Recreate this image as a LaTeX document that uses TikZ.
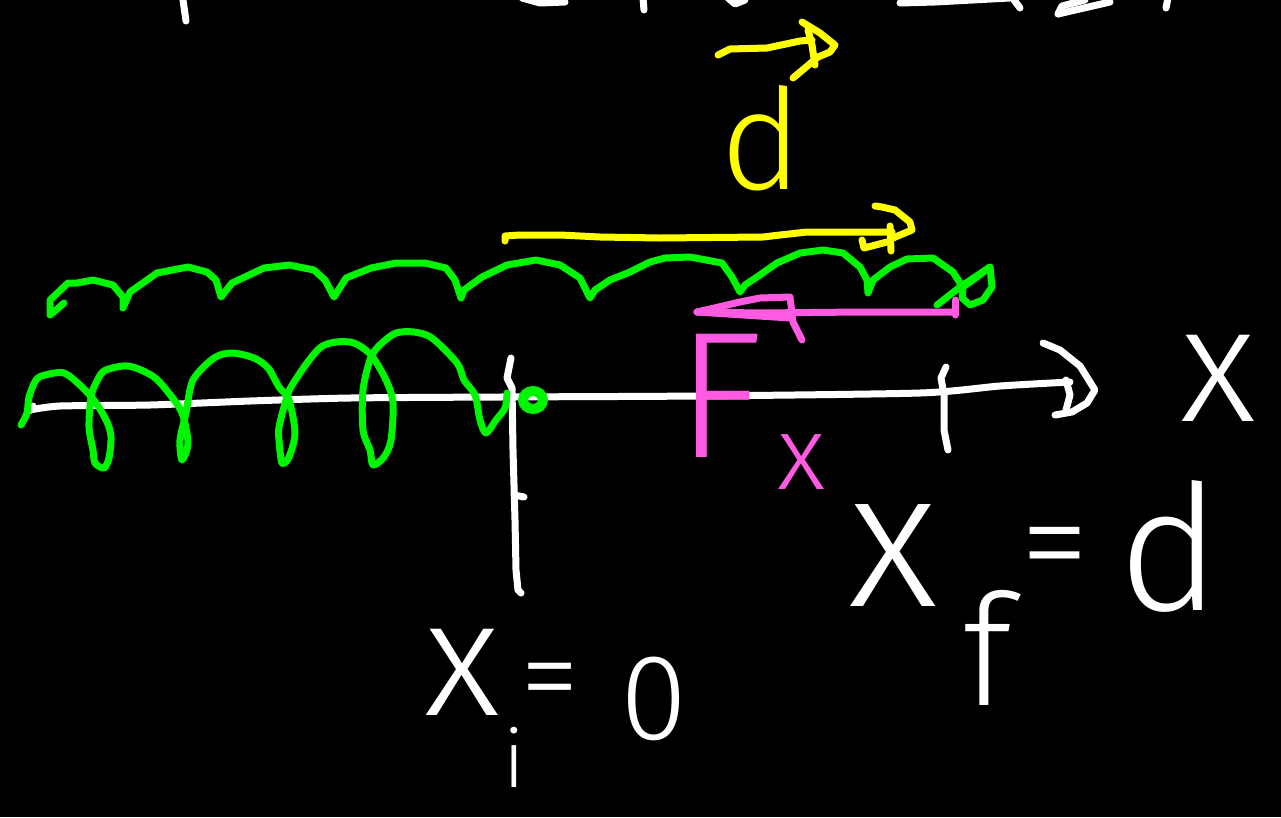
\documentclass[tikz,border=0pt]{standalone}
\usepackage{fontspec}
\newfontfamily\hand{Fira Sans}[UprightFont={* Light}]
\definecolor{hgreen}{RGB}{0,245,0}
\definecolor{hyellow}{RGB}{255,255,0}
\definecolor{hpink}{RGB}{255,90,225}
\newcommand{\fsz}[1]{\hand\fontsize{#1}{#1}\selectfont}
\begin{document}
\begin{tikzpicture}[x=1pt,y=-1pt,
  ink/.style={line width=7pt,line cap=round,line join=round},
  wh/.style={ink,white},
  gr/.style={ink,hgreen},
  ye/.style={ink,hyellow},
  pk/.style={ink,hpink},
  lbl/.style={inner sep=0pt,outer sep=0pt}]
\fill[black] (0,0) rectangle (1281,817);
\useasboundingbox (0,0) rectangle (1281,817);

% top cut-off fragments
\draw[wh] (183,0)--(186,21);
\draw[wh] (522,-2)--(540,3)--(565,2);
\draw[wh] (643,-2)--(644,10);
\draw[wh] (728,-2)--(735,4)--(745,0);
\draw[wh] (900,3)--(935,2)--(1010,-2);
\draw[wh] (1014,0)--(1020,8);
\draw[wh] (1058,14)--(1062,6)--(1085,0);
\draw[wh] (1058,14)--(1110,2);
\draw[wh] (1168,-2)--(1166,8);

% x axis
\draw[wh] (28,412)--(33,406);
\draw[wh] plot[smooth,tension=0.4] coordinates {(30,410)(60,406)(150,405)(250,401)(350,398)(500,397)(700,396)(920,393)(1000,386)(1070,382)};
\draw[wh] (1043,343)--(1060,350)--(1080,366)--(1095,390)--(1087,403)--(1072,412)--(1055,415);
\draw[wh] (1066,380)--(1070,395)--(1066,410);
\node[lbl,text=white,font=\fsz{165}] (axlbl) at (1218,378) {x};

% ticks
\draw[wh] (511,358)--(507,378)--(512,388)--(513,450)--(515,520)--(516,570)--(518,590)--(521,593);
\draw[wh] (514,495)--(524,497);
\draw[wh] (946,367)--(941,378)--(944,395)--(944,430)--(948,450);

% green spring, top view
\draw[gr] (64,303)--(55,311)--(50,315)--(50,300)--(68,283)--(77,283)--(93,280)--(113,285)--(123,297)--(123,308)--(130,292)--(157,273)--(188,267)--(207,272)--(216,280)--(221,297)--(232,283)--(264,268)--(289,265)--(314,270)--(325,280)--(334,297)--(346,278)--(371,268)--(396,263)--(425,263)--(446,268)--(455,280)--(461,298)--(464,290)--(482,277)--(507,265)--(536,260)--(560,265)--(580,278)--(590,298)--(595,290)--(610,280)--(630,272)--(650,262)--(665,258)--(690,257)--(722,263)--(732,277)--(740,292)--(745,285)--(757,277)--(777,263)--(800,253)--(823,250)--(843,253)--(860,267)--(867,280)--(868,293)--(873,280)--(890,267)--(907,259)--(933,258)--(953,272)--(960,283);
\draw[gr] (937,305)--(960,287)--(990,267);
\draw[gr] (990,267)--(992,287)--(983,300)--(970,305)--(962,298)--(963,287)--(977,277)--cycle;

% green spring, coils
\draw[gr] plot[smooth,tension=0.5] coordinates {(21,425)(27,413)(29,397)(36,380)(45,375)(64,373)(82,387)(96,403)(107,422)(111,437)(109,458)(104,468)(95,463)(93,450)(89,427)(91,397)(96,383)(104,371)(123,366)(136,368)(154,377)(168,392)(182,413)(188,443)(182,460)(180,440)(186,413)(193,380)(214,358)(232,353)(254,358)(268,368)(279,387)(289,400)(295,433)(289,457)(282,463)(279,440)(279,427)(286,400)(291,387)(307,363)(321,347)(336,342)(354,343)(371,355)(386,380)(393,403)(391,440)(384,457)(373,465)(370,450)(363,430)(363,390)(371,357)(382,343)(396,333)(414,332)(432,338)(457,363)(464,380)(475,395)(480,420)(486,433)(496,420)(505,408)(507,393)};
\draw[gr,line width=10pt] (533,400) ellipse (10 and 9);

% yellow displacement arrow
\draw[ye] (505,241)--(505,236)--(520,235)--(560,235)--(600,237)--(660,238)--(763,237)--(780,235)--(807,232)--(892,232);
\draw[ye] (875,206)--(882,207)--(895,210)--(910,222)--(912,230)--(893,238);
\draw[ye] (890,226)--(891,251);
\draw[ye] (862,240)--(864,248)--(887,242);

% yellow vector d
\node[lbl,text=hyellow,font=\fsz{140}] (dvec) at (761,138) {d};
\draw[ye] (718,55)--(730,49)--(767,48)--(800,41)--(812,40);
\draw[ye] (802,22)--(820,33)--(835,45)--(830,52)--(818,57)--(793,78);
\draw[ye] (808,30)--(812,45)--(815,65);

% magenta force arrow
\draw[pk] (697,312)--(760,313)--(860,312)--(955,312);
\draw[pk] (955,300)--(955,315);
\draw[pk] (697,312)--(740,302)--(760,298)--(790,297)--(793,322)--(802,340);
\draw[pk] (697,312)--(790,318);
\node[lbl,text=hpink,font=\fsz{180}] (F) at (720,396) {F};
\node[lbl,text=hpink,font=\fsz{105}] (Fsub) at (802,462) {x};

% x_i = 0
\node[lbl,text=white,font=\fsz{165}] (xi) at (462,672) {x};
\node[lbl,text=white,font=\fsz{80}] (xisub) at (514,757) {i};
\node[lbl,text=white,font=\fsz{120}] (xieq) at (550,690) {=};
\node[lbl,text=white,font=\fsz{122}] (xizero) at (654,699) {0};

% x_f = d
\node[lbl,text=white,font=\fsz{195}] (xf) at (893,555) {x};
\node[lbl,text=white,font=\fsz{155}] (xfsub) at (987,648) {f};
\node[lbl,text=white,font=\fsz{140}] (xfeq) at (1055,558) {=};
\node[lbl,text=white,font=\fsz{175}] (xfd) at (1170,546) {d};
\end{tikzpicture}
\end{document}
